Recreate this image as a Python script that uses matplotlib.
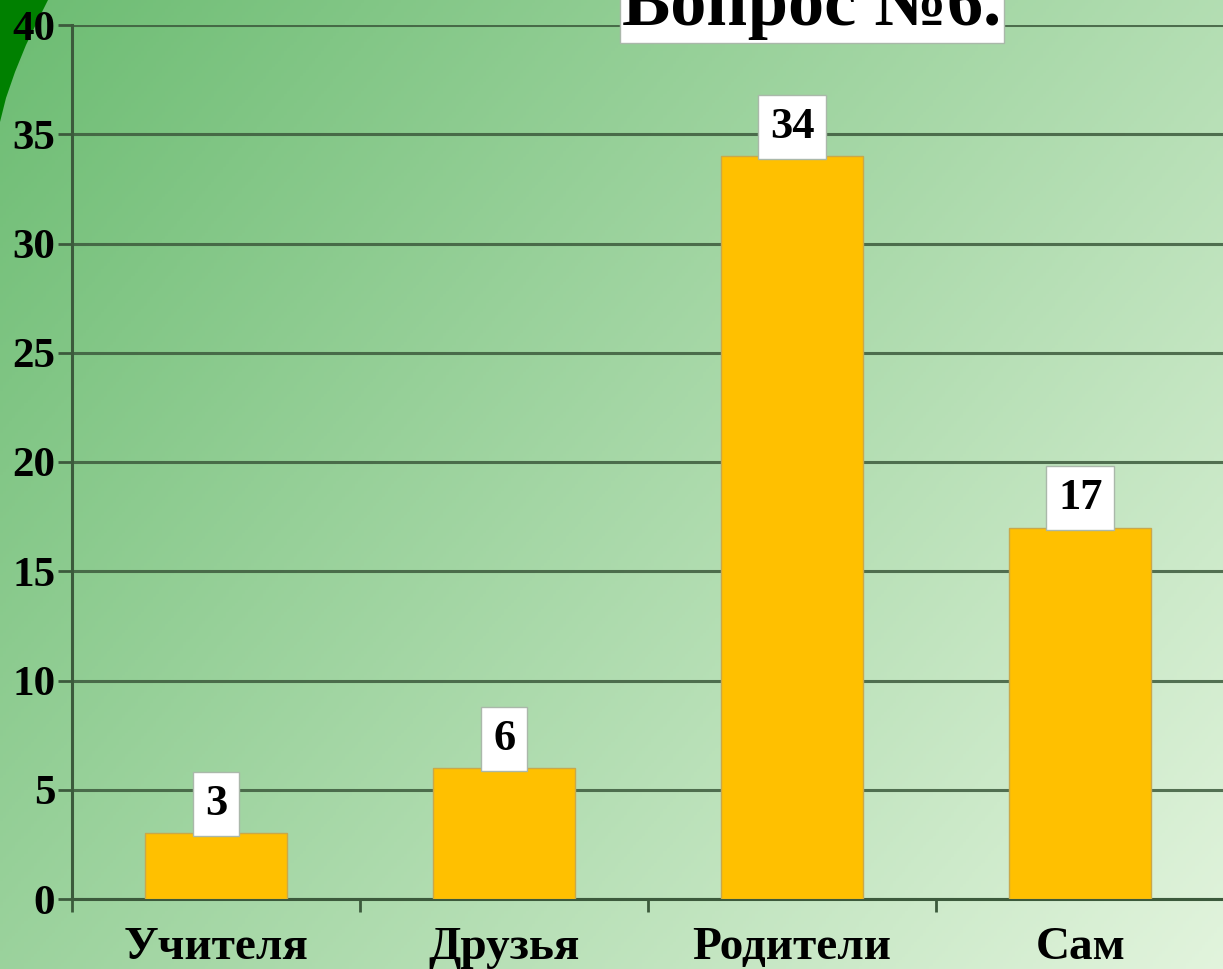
import numpy as np
import matplotlib.pyplot as plt
from matplotlib.patches import Polygon

# data
categories = ["Учителя", "Друзья", "Родители", "Сам"]
values = [3, 6, 34, 17]
yticks = [0, 5, 10, 15, 20, 25, 30, 35, 40]
title = "Вопрос №6."

plt.rcParams['font.family'] = ['Liberation Serif', 'DejaVu Serif']
plt.rcParams['font.weight'] = 'bold'

W, H = 1223, 969
fig = plt.figure(figsize=(W / 100, H / 100), dpi=100)

# gradient background
bg = fig.add_axes([0, 0, 1, 1], zorder=0)
xx, yy = np.meshgrid(np.linspace(0, 1, 400), np.linspace(0, 1, 320))
t = 0.6 * xx + 0.4 * yy
c0 = np.array([108, 188, 114]) / 255
c1 = np.array([226, 244, 221]) / 255
img = c0[None, None, :] * (1 - t[..., None]) + c1[None, None, :] * t[..., None]
bg.imshow(img, extent=[0, 1, 1, 0], aspect='auto')
bg.set_xlim(0, 1)
bg.set_ylim(1, 0)
bg.axis('off')
# dark green corner shape
corner = [(0, 0), (48, 0), (38, 20), (26, 45), (15, 72), (6, 98), (0, 122)]
bg.add_patch(Polygon([(x / W, y / H) for x, y in corner], closed=True,
                     color='#008000', lw=0))

ax = fig.add_axes([72 / W, 70 / H, 1 - 72 / W + 0.001, (899 - 25) / H], zorder=1)
ax.set_facecolor('none')

x = np.arange(len(categories))
ax.bar(x, values, width=0.495, color='#FFC000', edgecolor='#c9a84a', lw=1, zorder=3)

ax.set_xlim(-0.5, 3.5)
ax.set_ylim(0, 40)
ax.set_yticks(yticks)
ax.set_yticklabels([str(v) for v in yticks], fontsize=31, fontweight='bold')
ax.set_xticks(x)
ax.set_xticklabels(categories, fontsize=34, fontweight='bold')
ax.set_xticks(np.arange(-0.5, 4.0, 1), minor=True)
ax.tick_params(axis='x', which='major', length=0, pad=20)
ax.tick_params(axis='x', which='minor', length=9, width=2, color='#3c5a3c', direction='out')
ax.tick_params(axis='y', length=10, width=2, color='#3c5a3c', direction='out', pad=2)

ax.grid(axis='y', color='#3c5a3c', lw=2.2, alpha=0.85, zorder=1)
for s in ['top', 'right']:
    ax.spines[s].set_visible(False)
for s in ['left', 'bottom']:
    ax.spines[s].set_color('#3c5a3c')
    ax.spines[s].set_linewidth(2.2)

# value labels
for xi, v in zip(x, values):
    ax.annotate(str(v), (xi, v), xytext=(0, 21), textcoords='offset points',
                ha='center', va='center', fontsize=32, fontweight='bold', zorder=5,
                bbox=dict(boxstyle='square,pad=0.27', fc='white', ec='#aab8aa', lw=1))

fig.text(812 / W, 1 - 25 / H, title, ha='center', va='baseline', fontsize=52,
         fontweight='bold', zorder=5,
         bbox=dict(boxstyle='square,pad=0.04', fc='white', ec='#aab8aa', lw=1))

fig.savefig('out.png', dpi=100)
